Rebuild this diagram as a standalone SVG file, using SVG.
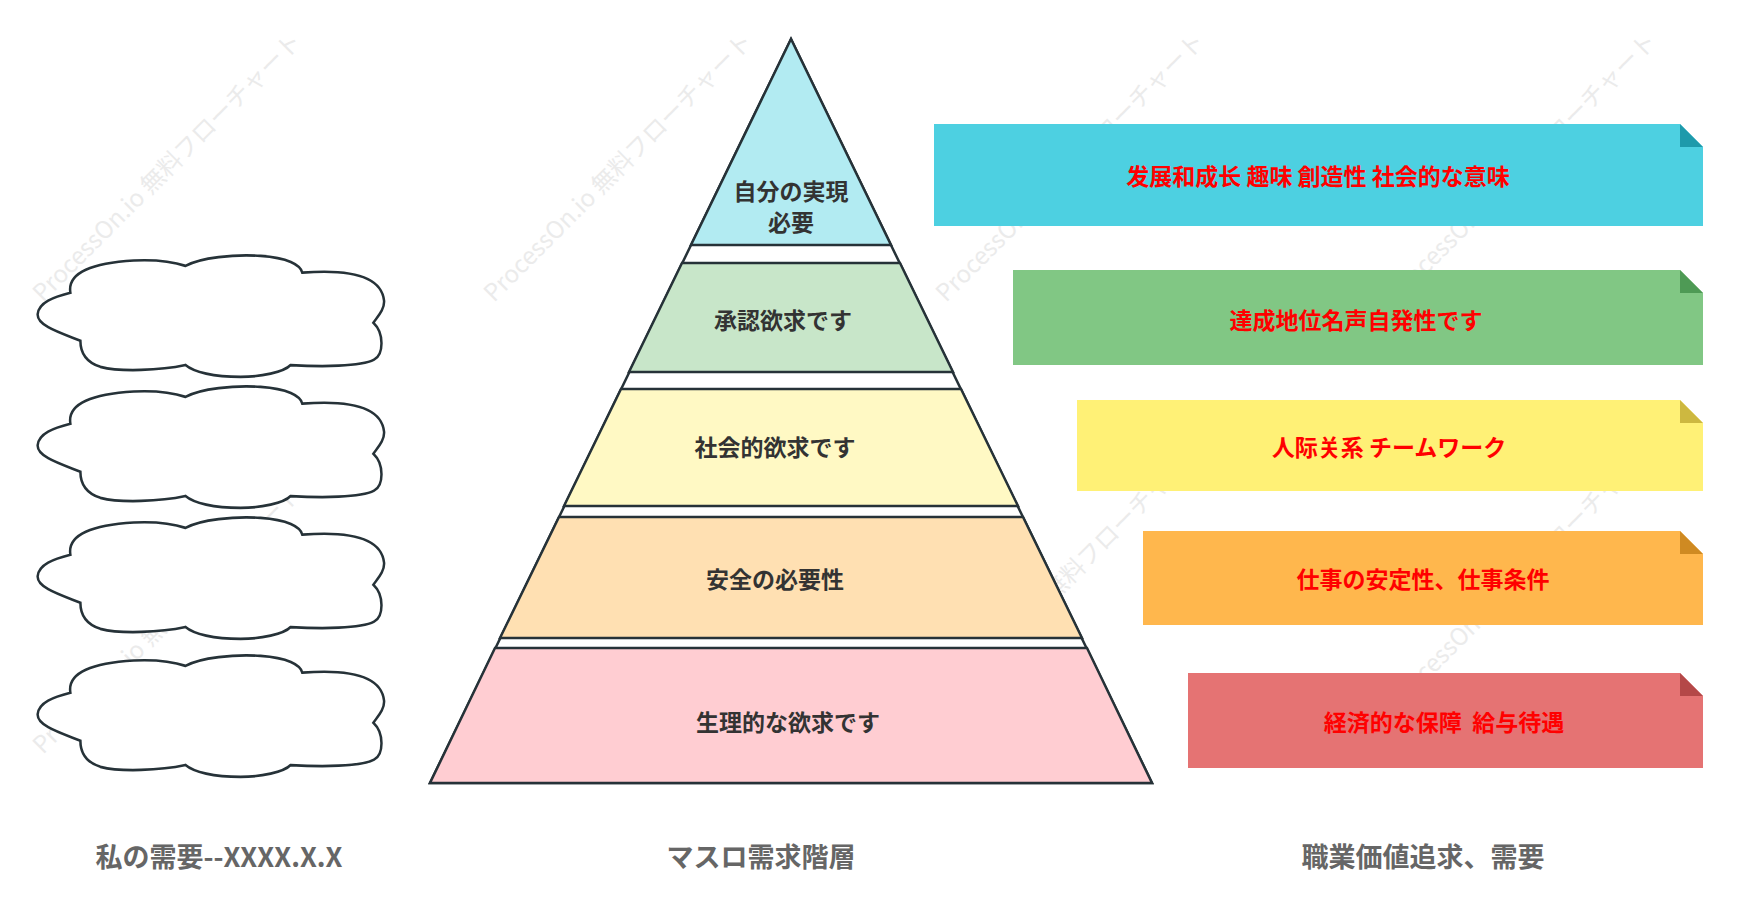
<svg xmlns="http://www.w3.org/2000/svg" width="1740" height="921" viewBox="0 0 1740 921">
<defs>
<style>
.band{stroke:#263238;stroke-width:2.5;stroke-linejoin:miter}
.pl{font-family:"Noto Sans CJK JP","Liberation Sans",sans-serif;font-weight:bold;font-size:23px;fill:#333;text-anchor:middle;dominant-baseline:central}
.rl{font-family:"Noto Sans CJK JP","Liberation Sans",sans-serif;font-weight:bold;font-size:23px;fill:#ff0000;text-anchor:middle;dominant-baseline:central}
.bl{font-family:"Noto Sans CJK JP","Liberation Sans",sans-serif;font-weight:bold;font-size:27px;fill:#666;text-anchor:middle;dominant-baseline:central}
.wm{font-family:"Noto Sans CJK JP","Liberation Sans",sans-serif;font-size:24px;fill:#ebebeb;text-anchor:middle}
.cloud{fill:#fff;stroke:#263238;stroke-width:7.5}
</style>
<path id="cl" d="M210,178 C200,120 280,95 400,88 C470,85 520,92 555,103 C600,80 700,70 780,75 C860,80 900,100 905,122 C1000,115 1140,115 1150,200 C1152,225 1130,245 1118,262 C1150,290 1150,350 1120,365 C1080,385 960,385 870,380 C850,400 780,413 720,413 C640,413 580,400 555,380 C480,395 360,400 300,385 C250,370 240,340 240,312 C180,290 110,270 112,238 C115,205 160,190 210,178 Z"/>
</defs>
<rect width="1740" height="921" fill="#fff"/>
<g id="watermarks">
<text class="wm" transform="translate(173,173) rotate(-45)">ProcessOn.io 無料フローチャート</text>
<text class="wm" transform="translate(624,173) rotate(-45)">ProcessOn.io 無料フローチャート</text>
<text class="wm" transform="translate(1076,173) rotate(-45)">ProcessOn.io 無料フローチャート</text>
<text class="wm" transform="translate(1528,173) rotate(-45)">ProcessOn.io 無料フローチャート</text>
<text class="wm" transform="translate(173,625) rotate(-45)">ProcessOn.io 無料フローチャート</text>
<text class="wm" transform="translate(1076,580) rotate(-45)">ProcessOn.io 無料フローチャート</text>
<text class="wm" transform="translate(1528,580) rotate(-45)">ProcessOn.io 無料フローチャート</text>
</g>
<g id="clouds">
<g id="cloud1"><use href="#cl" class="cloud" transform="translate(0.3,229) scale(0.3337,0.358)"/></g>
<g id="cloud2"><use href="#cl" class="cloud" transform="translate(0.3,360) scale(0.3337,0.358)"/></g>
<g id="cloud3"><use href="#cl" class="cloud" transform="translate(0.3,491) scale(0.3337,0.358)"/></g>
<g id="cloud4"><use href="#cl" class="cloud" transform="translate(0.3,629) scale(0.3337,0.358)"/></g>
</g>
<g id="pyramid">
<polygon points="791,39 1152,783 430,783" fill="#fff" class="band"/>
<g id="level5"><polygon class="band" fill="#b2ebf2" points="791,39 891,245 691,245"/>
<text class="pl" x="791" y="190">自分の実現</text><text class="pl" x="791" y="221">必要</text></g>
<g id="level4"><polygon class="band" fill="#c8e6c9" points="900,263 953,372 629,372 682,263"/>
<text class="pl" x="783" y="319">承認欲求です</text></g>
<g id="level3"><polygon class="band" fill="#fff9c4" points="961,389 1018,506 564,506 621,389"/>
<text class="pl" x="775" y="446">社会的欲求です</text></g>
<g id="level2"><polygon class="band" fill="#ffe0b2" points="1023,517 1082,638 500,638 559,517"/>
<text class="pl" x="775" y="578">安全の必要性</text></g>
<g id="level1"><polygon class="band" fill="#ffcdd2" points="1087,648 1152,783 430,783 495,648"/>
<text class="pl" x="788" y="721">生理的な欲求です</text></g>
</g>
<g id="notes">
<g id="note1"><polygon fill="#4dd0e1" points="934,124 1680,124 1703,147 1703,226 934,226"/><polygon fill="#1e9aab" points="1680,124 1703,147 1680,147"/>
<text class="rl" x="1318" y="175">发展和成长 趣味 創造性 社会的な意味</text></g>
<g id="note2"><polygon fill="#81c784" points="1013,270 1680,270 1703,293 1703,365 1013,365"/><polygon fill="#4e9a55" points="1680,270 1703,293 1680,293"/>
<text class="rl" x="1356" y="319">達成地位名声自発性です</text></g>
<g id="note3"><polygon fill="#fff176" points="1077,400 1680,400 1703,423 1703,491 1077,491"/><polygon fill="#cdb840" points="1680,400 1703,423 1680,423"/>
<text class="rl" x="1389" y="446">人际关系 チームワーク</text></g>
<g id="note4"><polygon fill="#ffb74d" points="1143,531 1680,531 1703,554 1703,625 1143,625"/><polygon fill="#cf8a22" points="1680,531 1703,554 1680,554"/>
<text class="rl" x="1423" y="578">仕事の安定性、仕事条件</text></g>
<g id="note5"><polygon fill="#e57373" points="1188,673 1680,673 1703,696 1703,768 1188,768"/><polygon fill="#b44848" points="1680,673 1703,696 1680,696"/>
<text class="rl" x="1444" y="721" xml:space="preserve">経済的な保障  給与待遇</text></g>
</g>
<g id="connectors"/>
<g id="titles">
<text class="bl" x="219" y="855">私の需要--XXXX.X.X</text>
<text class="bl" x="761" y="855">マスロ需求階層</text>
<text class="bl" x="1423" y="855">職業価値追求、需要</text>
</g>
</svg>
